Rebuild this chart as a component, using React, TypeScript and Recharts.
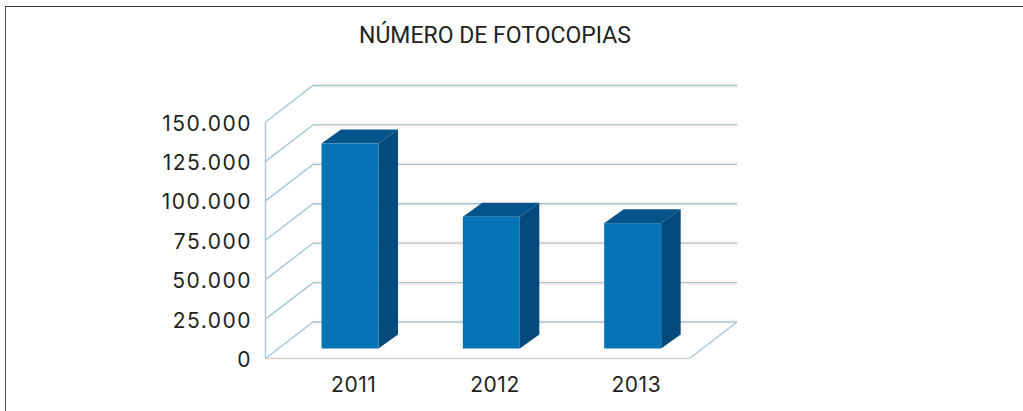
import React from "react";
import { BarChart, Bar, XAxis, YAxis, CartesianGrid } from "recharts";

const years = ["2011", "2012", "2013"];
const copies = [130000, 83500, 79500];
const yTicks = [0, 25000, 50000, 75000, 100000, 125000, 150000];
const titleText = "NÚMERO DE FOTOCOPIAS";
const chartData = years.map((year, i) => ({ year, copies: copies[i] }));

const WALL_DX = 47.5;
const WALL_DY = 36.5;
const BAR_DX = 14;
const BAR_DY = 10;
const SIDE_DX = 19.5;
const SIDE_DY = 14;

function fmt(v: number) {
  return String(v).replace(/\B(?=(\d{3})+$)/g, ".");
}

function GridLine(p: any) {
  const { x1, y1, x2, y2, height, y } = p;
  const isFloor = Math.abs(y1 - (y + height)) < 1;
  const bx1 = x1 + WALL_DX;
  const bx2 = x2 + WALL_DX;
  const by = y1 - WALL_DY;
  return (
    <g>
      <path d={`M${bx1} ${by}H${bx2}`} stroke="#fdf3f0" strokeWidth={5} fill="none" />
      <path d={`M${x1} ${y1}L${bx1} ${by}H${bx2}`} stroke="#a6c7d6" strokeWidth={1.4} fill="none" />
      {isFloor && (
        <path d={`M${x2} ${y2}L${bx2} ${by}`} stroke="#a6c7d6" strokeWidth={1.4} fill="none" />
      )}
    </g>
  );
}

function Bar3D(p: any) {
  const x = p.x + BAR_DX;
  const y = p.y - BAR_DY;
  const w = p.width;
  const h = p.height;
  return (
    <g>
      <polygon
        points={`${x},${y} ${x + SIDE_DX},${y - SIDE_DY} ${x + w + SIDE_DX},${y - SIDE_DY} ${x + w},${y}`}
        fill="#05558c"
      />
      <polygon
        points={`${x + w},${y} ${x + w + SIDE_DX},${y - SIDE_DY} ${x + w + SIDE_DX},${y + h - SIDE_DY} ${x + w},${y + h}`}
        fill="#024b7c"
      />
      <rect x={x} y={y} width={w} height={h} fill="#0473b6" />
    </g>
  );
}

function XTick(p: any) {
  return (
    <text
      x={p.x + 17.5}
      y={p.y + 25.5}
      textAnchor="middle"
      fontFamily="Inter, sans-serif"
      fontSize={21}
      letterSpacing={0.5}
      fill="#231f20"
    >
      {p.payload.value}
    </text>
  );
}

function YTick(p: any) {
  return (
    <text
      x={p.x + 1.5}
      y={p.y + 8.5}
      textAnchor="end"
      fontFamily="Inter, sans-serif"
      fontSize={21}
      letterSpacing={1.5}
      fill="#231f20"
    >
      {fmt(p.payload.value)}
    </text>
  );
}

export default function App() {
  return (
    <div style={{ position: "absolute", left: 0, top: 0, width: 1023, height: 411, background: "#fff", overflow: "hidden" }}>
      <div style={{ position: "absolute", left: 5, top: 6, right: 0, bottom: 0, borderTop: "1.5px solid #333", borderLeft: "1.5px solid #555" }} />
      <div
        style={{
          position: "absolute",
          left: 295,
          width: 400,
          top: 22.5,
          textAlign: "center",
          fontFamily: "Roboto, sans-serif",
          fontSize: 23,
          lineHeight: "26px",
          color: "#231f20",
        }}
      >
        {titleText}
      </div>
      <div style={{ position: "absolute", left: 0, top: 0 }}>
        <BarChart
          width={1023}
          height={411}
          data={chartData}
          margin={{ top: 122, right: 333.5, bottom: 0, left: 0 }}
        >
          <CartesianGrid vertical={false} horizontal={(p: any) => <GridLine key={p.key} {...p} />} />
          <XAxis
            dataKey="year"
            height={52.5}
            axisLine={{ stroke: "#d9d0ce", strokeWidth: 1.5 }}
            tickLine={false}
            tick={<XTick />}
          />
          <YAxis
            width={265.5}
            domain={[0, 150000]}
            ticks={yTicks}
            interval={0}
            axisLine={{ stroke: "#a6c7d6", strokeWidth: 1.4 }}
            tickLine={false}
            tickSize={0}
            tickMargin={15}
            tick={<YTick />}
          />
          <Bar dataKey="copies" barSize={57} shape={<Bar3D />} isAnimationActive={false} />
        </BarChart>
      </div>
    </div>
  );
}
